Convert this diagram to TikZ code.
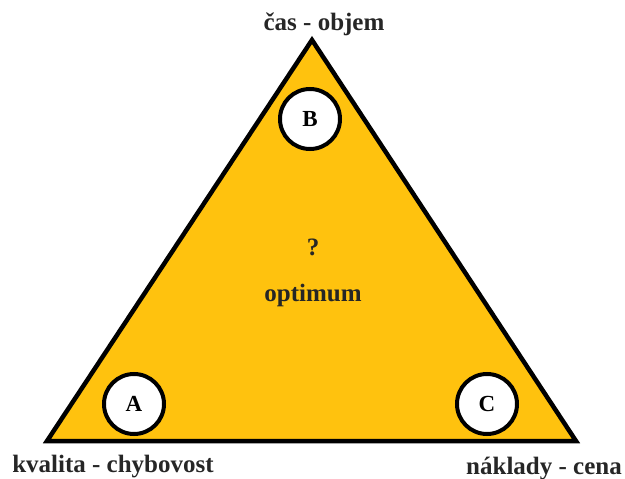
\documentclass[tikz,border=0pt]{standalone}
\usepackage{fontspec}
\setmainfont{Liberation Serif}
\definecolor{tri}{HTML}{FFC20E}
\begin{document}
\begin{tikzpicture}[x=1pt,y=-1pt,
  lbl/.style={font=\bfseries\fontsize{25}{27}\selectfont, text=black!85},
  circ/.style={circle, draw=black, line width=4pt, fill=white, minimum size=60pt, inner sep=0pt, font=\bfseries\fontsize{23}{24}\selectfont}]
\useasboundingbox (0,0) rectangle (625,479);
\coordinate (T) at (312,40);
\coordinate (L) at (47,441);
\coordinate (R) at (576,441);
\filldraw[fill=tri, draw=black, line width=4.5pt, line join=miter] (T) -- (L) -- (R) -- cycle;
\node[circ] (B) at (310,119) {B};
\node[circ] (A) at (134,404) {A};
\node[circ] (C) at (487,404) {C};
\node[lbl] (q) at (313,247) {?};
\node[lbl] (opt) at (313,295) {optimum};
\node[lbl] (top) at (324,24) {čas - objem};
\node[lbl] (kv) at (113,467) {kvalita - chybovost};
\node[lbl] (nc) at (544,469) {náklady - cena};
\end{tikzpicture}
\end{document}
